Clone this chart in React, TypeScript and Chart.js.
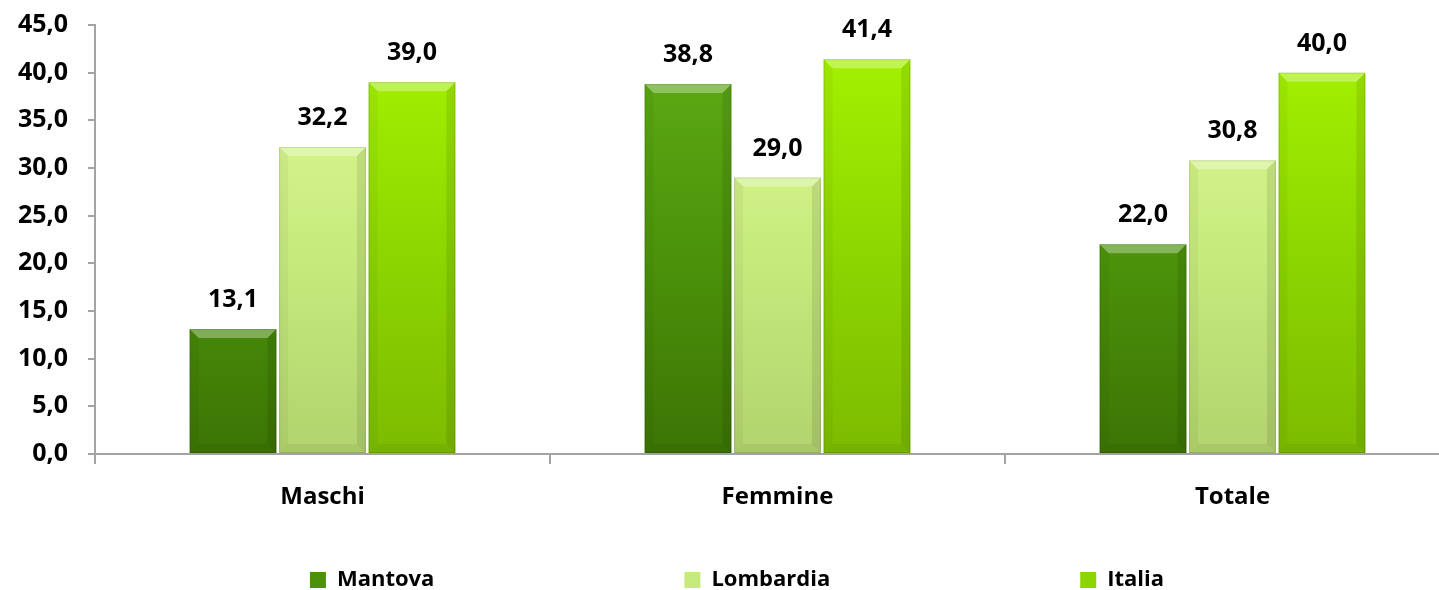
import React, { useEffect, useRef } from "react";
import { Chart, registerables } from "chart.js";

Chart.register(...registerables);

// ---- data ----
const categories = ["Maschi", "Femmine", "Totale"];
const seriesNames = ["Mantova", "Lombardia", "Italia"];
const mantovaValues = [13.1, 38.8, 22.0];
const lombardiaValues = [32.2, 29.0, 30.8];
const italiaValues = [39.0, 41.4, 40.0];
const yMin = 0;
const yMax = 45;
const yStep = 5;

// ---- styles ----
const FONT = '"Open Sans", "DejaVu Sans", sans-serif';
const gradientStops = [
  ["#60ae16", "#4b920a", "#3c7405"],
  ["#e0fc98", "#c6ea7c", "#b2d36e"],
  ["#a8f500", "#8cd500", "#7cbb00"],
];
const legendColors = ["#4b920a", "#c6ea7c", "#8cd500"];
const legendTextWidths = [341, 359, 0];

const fmt = (v: number) => Number(v).toFixed(1).replace(".", ",");

function makeBg(idx: number) {
  return (ctx: any) => {
    const chart = ctx.chart;
    const area = chart.chartArea;
    if (!area) return gradientStops[idx][1];
    const g = chart.ctx.createLinearGradient(0, area.top, 0, area.bottom);
    g.addColorStop(0, gradientStops[idx][0]);
    g.addColorStop(0.55, gradientStops[idx][1]);
    g.addColorStop(1, gradientStops[idx][2]);
    return g;
  };
}

const bevelPlugin = {
  id: "bevel",
  afterDatasetsDraw(chart: any) {
    const ctx = chart.ctx;
    const poly = (pts: number[][], color: string) => {
      ctx.beginPath();
      ctx.moveTo(pts[0][0], pts[0][1]);
      for (let k = 1; k < pts.length; k++) ctx.lineTo(pts[k][0], pts[k][1]);
      ctx.closePath();
      ctx.fillStyle = color;
      ctx.fill();
    };
    ctx.save();
    chart.data.datasets.forEach((_ds: any, i: number) => {
      chart.getDatasetMeta(i).data.forEach((el: any) => {
        const { x, y, base, width } = el.getProps(["x", "y", "base", "width"], true);
        const l = x - width / 2;
        const r = x + width / 2;
        const t = Math.min(y, base);
        const b = Math.max(y, base);
        const d = Math.min(9, (b - t) / 2);
        poly([[l, t], [r, t], [r - d, t + d], [l + d, t + d]], "rgba(255,255,255,0.32)");
        poly([[l, t], [l + d, t + d], [l + d, b - d], [l, b]], "rgba(0,0,0,0.04)");
        poly([[r, t], [r, b], [r - d, b - d], [r - d, t + d]], "rgba(0,0,0,0.09)");
        poly([[l, b], [l + d, b - d], [r - d, b - d], [r, b]], "rgba(0,0,0,0.05)");
        ctx.strokeStyle = "rgba(0,0,0,0.12)";
        ctx.lineWidth = 1;
        ctx.strokeRect(l + 0.5, t + 0.5, width - 1, b - t - 1);
      });
    });
    ctx.restore();
  },
};

const valueLabelPlugin = {
  id: "valueLabels",
  afterDatasetsDraw(chart: any) {
    const ctx = chart.ctx;
    ctx.save();
    ctx.font = `700 25px ${FONT}`;
    ctx.fillStyle = "#000";
    ctx.textAlign = "center";
    ctx.textBaseline = "alphabetic";
    chart.data.datasets.forEach((ds: any, i: number) => {
      chart.getDatasetMeta(i).data.forEach((el: any, j: number) => {
        ctx.fillText(fmt(ds.data[j]), el.x, el.y - 22);
      });
    });
    ctx.restore();
  },
};

export default function App() {
  const canvasRef = useRef<HTMLCanvasElement | null>(null);

  useEffect(() => {
    if (!canvasRef.current) return;
    const axisColor = "#a3a3a3";
    const values = [mantovaValues, lombardiaValues, italiaValues];
    const chart = new Chart(canvasRef.current, {
      type: "bar",
      data: {
        labels: categories,
        datasets: seriesNames.map((name, i) => ({
          label: name,
          data: values[i],
          backgroundColor: makeBg(i),
          borderWidth: 0,
          categoryPercentage: 0.59,
          barPercentage: 0.97,
        })),
      },
      options: {
        animation: false,
        responsive: false,
        devicePixelRatio: 1,
        layout: { padding: { top: 25, left: 0, right: 0, bottom: 0 } },
        plugins: {
          tooltip: { enabled: false },
          legend: {
            position: "bottom",
            maxHeight: 31,
            labels: {
              boxWidth: 16,
              boxHeight: 16,
              padding: 10,
              color: "#000",
              font: { family: FONT, size: 22, weight: "bold" },
              generateLabels(ch: any) {
                const items = (Chart.defaults.plugins.legend.labels as any).generateLabels(ch);
                const c = ch.ctx;
                c.save();
                c.font = `bold 22px ${FONT}`;
                items.forEach((it: any, i: number) => {
                  it.fillStyle = legendColors[i];
                  it.strokeStyle = legendColors[i];
                  it.lineWidth = 0;
                  const target = legendTextWidths[i];
                  if (target) {
                    let t = it.text;
                    while (c.measureText(t + " ").width <= target) t += " ";
                    it.text = t;
                  }
                });
                c.restore();
                return items;
              },
            },
          },
        },
        scales: {
          x: {
            grid: {
              display: true,
              drawOnChartArea: false,
              drawTicks: true,
              tickLength: 10,
              color: axisColor,
              lineWidth: 2,
              offset: true,
            },
            border: { display: true, color: axisColor, width: 2 },
            ticks: { color: "#000", font: { family: FONT, size: 24, weight: "bold" }, padding: 19 },
            afterFit: (s: any) => {
              s.height = 105;
            },
          },
          y: {
            min: yMin,
            max: yMax,
            grid: {
              drawOnChartArea: false,
              drawTicks: true,
              tickLength: 7,
              color: axisColor,
              lineWidth: 2,
            },
            border: { display: true, color: axisColor, width: 2 },
            ticks: {
              stepSize: yStep,
              color: "#000",
              font: { family: FONT, size: 25, weight: "bold" },
              padding: 20,
              callback: (v: any) => fmt(v),
            },
            afterFit: (s: any) => {
              s.width = 95;
              s.paddingTop = 10;
              s.paddingBottom = 10;
            },
          },
          y2: {
            position: "right",
            display: true,
            grid: { display: false },
            border: { display: false },
            ticks: { display: false },
            afterFit: (s: any) => {
              s.width = 14;
              s.paddingTop = 0;
              s.paddingBottom = 0;
            },
          },
        },
      } as any,
      plugins: [bevelPlugin, valueLabelPlugin],
    });
    return () => chart.destroy();
  }, []);

  return (
    <div
      style={{
        position: "fixed",
        left: 0,
        top: 0,
        width: 1439,
        height: 590,
        overflow: "hidden",
        background: "#fff",
      }}
    >
      <canvas ref={canvasRef} width={1474} height={590} style={{ display: "block" }} />
    </div>
  );
}
